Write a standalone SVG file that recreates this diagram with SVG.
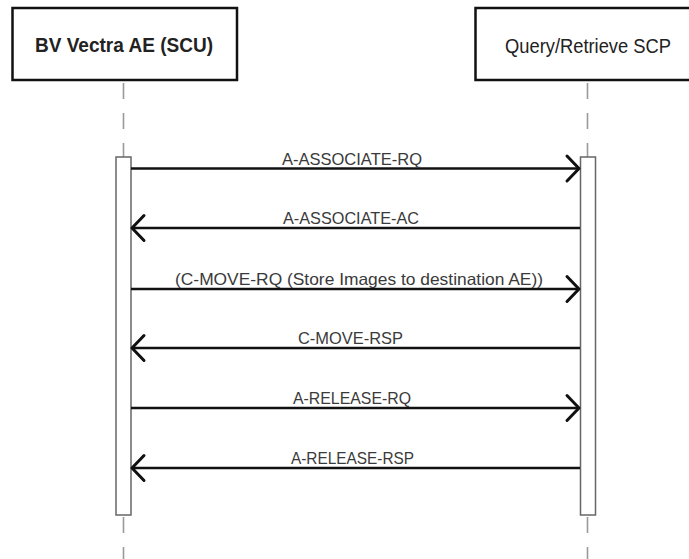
<svg xmlns="http://www.w3.org/2000/svg" width="689" height="559" viewBox="0 0 689 559">
<style>
.box{fill:#fff;stroke:#111;stroke-width:2.5}
.life{stroke:#9a9a9a;stroke-width:1.6;stroke-dasharray:16 14;fill:none}
.act{fill:#fff;stroke:#666;stroke-width:1.5}
.msg{stroke:#111;stroke-width:2.6;fill:none}
.head{stroke:#111;stroke-width:3;fill:none;stroke-linecap:round;stroke-linejoin:round}
.lbl{font-family:"Liberation Sans",Arial,sans-serif;font-size:16.5px;fill:#3a3a3a}
.title{font-family:"Liberation Sans Narrow","Liberation Sans",Arial,sans-serif;font-size:21px;fill:#222}
</style>
<rect width="689" height="559" fill="#fff"/>
<g id="node-scu">
<rect class="box" x="12.5" y="8" width="224.5" height="72"/>
<text class="title" x="35" y="52" font-weight="bold" textLength="178" lengthAdjust="spacingAndGlyphs">BV Vectra AE (SCU)</text>
<line class="life" x1="123.5" y1="83" x2="123.5" y2="157"/>
<line class="life" x1="123.5" y1="517" x2="123.5" y2="559"/>
<rect class="act" x="116" y="157" width="15" height="358"/>
</g>
<g id="node-scp">
<rect class="box" x="475.5" y="8" width="220" height="72"/>
<text class="title" x="505" y="53" font-size="20px" fill="#333" textLength="166" lengthAdjust="spacingAndGlyphs">Query/Retrieve SCP</text>
<line class="life" x1="587.5" y1="83" x2="587.5" y2="157"/>
<line class="life" x1="587.5" y1="517" x2="587.5" y2="559"/>
<rect class="act" x="580.5" y="157" width="15" height="358"/>
</g>
<g id="connectors">
<line class="msg" x1="131" y1="168.5" x2="579" y2="168.5"/>
<polyline class="head" points="567,156 579,168.5 567,181"/>
<text class="lbl" x="282" y="164.5" textLength="140" lengthAdjust="spacingAndGlyphs">A-ASSOCIATE-RQ</text>

<line class="msg" x1="132" y1="228" x2="580" y2="228"/>
<polyline class="head" points="144,215.5 132,228 144,240.5"/>
<text class="lbl" x="283" y="223.5" textLength="136" lengthAdjust="spacingAndGlyphs">A-ASSOCIATE-AC</text>

<line class="msg" x1="131" y1="289" x2="579" y2="289"/>
<polyline class="head" points="567,276.5 579,289 567,301.5"/>
<text class="lbl" x="175" y="285" textLength="368" lengthAdjust="spacingAndGlyphs">(C-MOVE-RQ (Store Images to destination AE))</text>

<line class="msg" x1="132" y1="348" x2="580" y2="348"/>
<polyline class="head" points="144,335.5 132,348 144,360.5"/>
<text class="lbl" x="298" y="343.5" textLength="105" lengthAdjust="spacingAndGlyphs">C-MOVE-RSP</text>

<line class="msg" x1="131" y1="408" x2="579" y2="408"/>
<polyline class="head" points="567,395.5 579,408 567,420.5"/>
<text class="lbl" x="293" y="404" textLength="118" lengthAdjust="spacingAndGlyphs">A-RELEASE-RQ</text>

<line class="msg" x1="132" y1="468" x2="580" y2="468"/>
<polyline class="head" points="144,455.5 132,468 144,480.5"/>
<text class="lbl" x="291" y="463.5" textLength="123" lengthAdjust="spacingAndGlyphs">A-RELEASE-RSP</text>
</g>
</svg>
